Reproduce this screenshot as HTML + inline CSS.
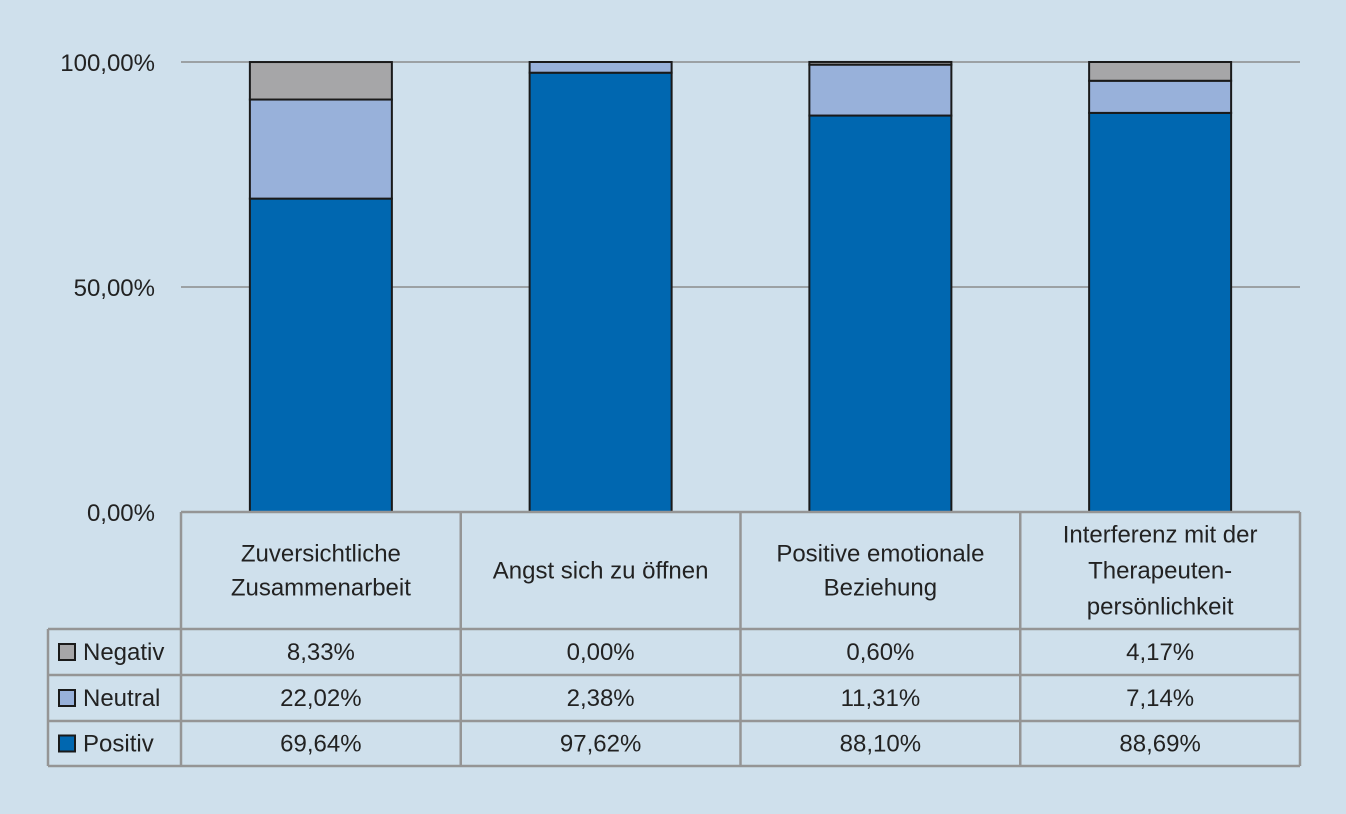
<!DOCTYPE html>
<html><head><meta charset="utf-8"><style>
html,body{margin:0;padding:0;background:#cfe0ec;}
svg{display:block;font-family:"Liberation Sans",sans-serif;}
</style></head><body>
<svg id="chart" width="1346" height="814">
<rect x="0" y="0" width="1346" height="814" fill="#cfe0ec"/>
</svg>
<script>
const categories = [["Zuversichtliche","Zusammenarbeit"],["Angst sich zu öffnen"],["Positive emotionale","Beziehung"],["Interferenz mit der","Therapeuten-","persönlichkeit"]];
const seriesNames = ["Negativ","Neutral","Positiv"];
const negativ = [8.33, 0.00, 0.60, 4.17];
const neutral = [22.02, 2.38, 11.31, 7.14];
const positiv = [69.64, 97.62, 88.10, 88.69];
const yTicks = [0, 50, 100];
const yTickLabels = ["0,00%","50,00%","100,00%"];
const colors = {Negativ:"#a6a6a8", Neutral:"#98b1da", Positiv:"#0067b0"};

const svg = document.getElementById('chart');
const NS = "http://www.w3.org/2000/svg";
const x0 = 181, x1 = 1300, yTop = 62, yBot = 512;
const colW = (x1 - x0) / categories.length;
const barW = 142;
const FS = 24;
function yScale(v){ return yBot - (v/100)*(yBot - yTop); }
function xCenter(i){ return x0 + colW*(i+0.5); }
function mk(tag, attrs){ const e = document.createElementNS(NS, tag); for (const k in attrs) e.setAttribute(k, attrs[k]); svg.appendChild(e); return e; }
function fmt(v){ return v.toFixed(2).replace('.', ',') + '%'; }

yTicks.forEach((t,i)=>{
  const y = yScale(t);
  if (t > 0) {
    const g = mk('line',{x1:x0,x2:x1,y1:y,y2:y,stroke:'#8c8c8c','stroke-width':1.5});
    
    
  }
  const tx = mk('text',{x:155,y:y+9,'text-anchor':'end','font-size':FS,fill:'#222'});
  tx.textContent = yTickLabels[i];
  
  
});

categories.forEach((c,i)=>{
  const cx = xCenter(i);
  const stack = [["Positiv",positiv[i]],["Neutral",neutral[i]],["Negativ",negativ[i]]];
  let base = 0;
  stack.forEach(([name,v])=>{
    if (v <= 0) return;
    const r = mk('rect',{x:cx-barW/2,y:yScale(base+v),width:barW,height:yScale(base)-yScale(base+v),fill:colors[name],stroke:'#1a1a1a','stroke-width':2});
    
    
    base += v;
  });
});

const rowLines = [629, 675, 721, 766];
const lc = '#959595';
function line(a,b,c,d){ const l = mk('line',{x1:a,y1:b,x2:c,y2:d,stroke:lc,'stroke-width':2.5});   }
line(x0, yBot, x1, yBot);
for (let i=0;i<=categories.length;i++){ const x = x0 + colW*i; line(x, yBot, x, 766); }
line(48, 629, 48, 766);
rowLines.forEach(y=>line(48, y, x1, y));

categories.forEach((c,i)=>{
  const cx = xCenter(i);
  const mid = (yBot + 629)/2, lh = c.length > 2 ? 36 : 34;
  c.forEach((t,j)=>{
    const tx = mk('text',{x:cx,y:mid + (j - (c.length-1)/2)*lh + 8,'text-anchor':'middle','font-size':FS,fill:'#222'});
    tx.textContent = t;
    
    
  });
});

const rows = [negativ, neutral, positiv];
seriesNames.forEach((name,r)=>{
  const yc = (rowLines[r] + rowLines[r+1])/2;
  const sw = mk('rect',{x:59,y:yc-8,width:16,height:16,fill:colors[name],stroke:'#1a1a1a','stroke-width':2});
  
  
  const lt = mk('text',{x:83,y:yc+8,'font-size':FS,fill:'#222'});
  lt.textContent = name;
  
  
  rows[r].forEach((v,i)=>{
    const tx = mk('text',{x:xCenter(i),y:yc+8,'text-anchor':'middle','font-size':FS,fill:'#222'});
    tx.textContent = fmt(v);
    
    
  });
});
</script>
</body></html>
